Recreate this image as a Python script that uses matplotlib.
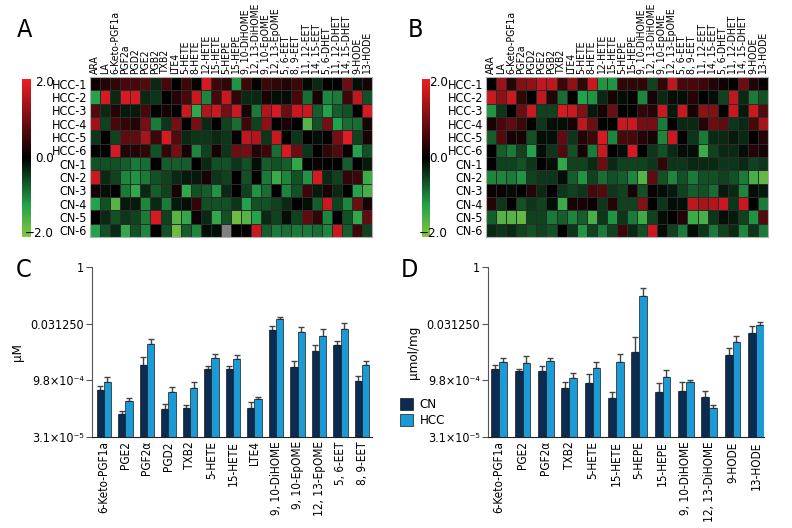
import numpy as np
import matplotlib
matplotlib.use("Agg")
import matplotlib.pyplot as plt
from matplotlib import font_manager
from matplotlib.colors import LinearSegmentedColormap
from matplotlib.patches import Patch
from matplotlib.ticker import NullLocator

# look for a narrow sans font (the reference uses a condensed face)
narrow = None
for f in font_manager.fontManager.ttflist:
    if f.style != "normal" or str(f.weight) not in ("400", "normal", "regular", "book"):
        continue
    nm = f.name
    if "Mono" in nm or "Serif" in nm:
        continue
    if "Narrow" in nm or "Condensed" in nm or f.stretch in ("condensed", "semi-condensed"):
        rank = 0 if "Liberation" in nm else (1 if "DejaVu" in nm else 2)
        if narrow is None or rank < narrow[0]:
            narrow = (rank, nm, f.stretch)

if narrow is not None:
    plt.rcParams["font.family"] = [narrow[1], "DejaVu Sans"]
    if narrow[2] != "normal":
        plt.rcParams["font.stretch"] = narrow[2]
    SC = 1.0
else:
    plt.rcParams["font.family"] = ["DejaVu Sans"]
    SC = 0.78

# ---- heatmap data (z-scores, -2..2) ----
metabolites = ["ARA", "LA", "6-Keto-PGF1a", "PGF2a", "PGD2", "PGE2", "PGB2", "TXB2", "LTE4",
               "5-HETE", "8-HETE", "12-HETE", "15-HETE", "5-HEPE", "15-HEPE", "9, 10-DiHOME",
               "12, 13-DiHOME", "9, 10-EpOME", "12, 13-EpOME", "5, 6-EET", "8, 9-EET",
               "11, 12-EET", "14, 15-EET", "5, 6-DHET", "11, 12-DHET", "14, 15-DHET",
               "9-HODE", "13-HODE"]
samples = ["HCC-1", "HCC-2", "HCC-3", "HCC-4", "HCC-5", "HCC-6",
           "CN-1", "CN-2", "CN-3", "CN-4", "CN-5", "CN-6"]

heat_a = [
    [0.1, 0.3, 0.4, 0.6, 0.6, 0.7, -0.3, 0.6, 0, 0.5, 0, 1.8, 0.5, 0.4, -1.1, 0.5, 0.05, 0.5, 0.4, 0.3, 0.5, -0.05, -0.3, 0, 0, 0.9, -0.1, 0.2],
    [-1.2, 1.8, -0.3, 1.8, 1.8, -0.3, -0.4, 0, 0.3, 0.6, 1.7, -1.0, 0.6, 1.7, 0.4, -0.3, -0.3, 0.2, -0.1, -0.1, 0.6, -0.8, 0.2, -1.0, -0.9, 0.5, 1.6, -0.6],
    [0.7, -0.3, 0.3, -0.2, -0.2, 0.6, 0, 0.2, 0, 1.7, -1.3, 1.5, 1.7, 1.0, 1.7, 0.2, -0.9, 1.5, 1.8, 0.9, 1.7, 1.7, -0.7, -1.2, -0.7, -0.6, 0, 1.8],
    [1.3, -0.5, 0.6, 0.4, 0.3, 1.0, -0.9, -0.4, 1.0, 0, 1.0, -0.3, 0, -0.5, -0.8, 0.5, -0.5, 1.2, 0, 0.2, 0, -1.6, -0.6, 1.0, -1.2, -0.8, -0.8, 0.2],
    [-0.4, 0, -0.5, 0.8, 0.8, 1.4, 0.5, 1.8, 0.7, -0.3, -0.4, -0.4, -0.3, -0.4, 0.05, 1.6, 1.5, -0.4, 1.7, 0, -0.4, 0, -0.1, 0, 1.0, 1.9, -0.5, 0.2],
    [0, 0, 1.8, 0.3, 0.3, 0.4, -0.6, 0.4, 1.0, 0.2, -1.0, -0.5, 0.2, -0.4, 0.9, 1.0, 0.3, 0.5, -0.8, 1.8, 0.9, -0.4, 0, 0.4, 0.7, 0.1, -1.2, -0.6],
    [-0.6, -0.6, -0.6, -0.7, -0.9, -0.8, 0, -0.7, -0.7, -0.7, 0, -0.3, -0.6, -0.6, -0.4, -0.6, -0.1, -0.7, -0.6, -0.7, -1.3, 0, 0.1, 0, 0, -0.7, 0, -0.2],
    [1.7, -0.3, -0.5, -1.0, -1.1, -0.9, -0.6, -0.5, -0.3, -0.2, -0.2, 0.2, -0.4, -0.5, 0, -0.6, 0, -0.9, -1.4, -1.0, -0.6, -1.1, 1.8, -0.3, -0.5, 0.4, 0.5, -1.4],
    [0.15, -0.1, 0, -0.9, -1.3, -0.3, -0.7, -0.5, 0.2, -1.3, -0.6, -0.7, -1.1, -0.3, 0, -0.5, -1.1, -0.8, 0, -1.0, -0.6, 0.5, -0.2, 0.2, -0.3, 0, -1.2, -1.5],
    [-1.2, -0.6, -1.6, -0.2, -0.2, -1.0, -0.3, -0.9, -0.2, -0.1, 0.4, -0.6, -0.6, -0.6, -0.4, -1.2, -0.6, -0.6, -0.5, -0.3, 0, -0.1, -0.7, 1.7, -0.5, -1.0, 0.9, 0.2],
    [0, -0.3, -0.6, -0.4, -0.5, -0.9, 1.8, -0.5, -1.6, -1.3, 0.1, -0.3, -1.3, -0.6, -1.8, -1.6, -1.2, -0.3, -0.5, -0.1, -0.5, 0.8, 0.4, -1.0, 0, -0.6, -1.3, 0.8],
    [-1.2, -0.6, -0.3, -1.3, -0.6, -1.0, 0, -0.6, -1.8, -0.7, -1.0, -0.1, -0.1, np.nan, 0, 0.05, 1.7, -0.7, -0.9, -0.8, -0.9, -0.9, -0.8, -1.0, 1.7, -0.7, 0.5, -0.5],
]

heat_b = [
    [0, 1.3, 0.3, 1.1, 1.2, 1.6, 1.6, 0.5, 1.2, 0.4, 1.7, -1.1, -1.1, 0.4, 0.4, 0.4, -0.5, 0.4, 1.6, 0.6, 0.6, 0.5, 0.3, 0.15, 0, 0.9, 0.3, 0.05],
    [1.7, 1.2, 1.7, 0.4, 0, 1.6, 0.3, -0.8, 0, -1.2, -1.1, -0.3, 0.2, -0.1, 0, -1.0, 0.2, -0.3, -0.1, -0.1, 0.3, 0, -0.1, -0.5, 1.6, -0.3, -0.9, -0.6],
    [-1.1, -0.4, 0, 0.9, 1.7, -0.5, -0.5, 1.8, 1.7, 1.1, -0.2, 0.2, 0.9, 0, 0, 0.4, 0.3, 1.7, -0.2, 1.7, 0.2, 1.2, 1.1, 0, 1.7, -0.2, 1.7, 0.7],
    [0.2, 0.6, 0.8, 0.5, 0, -0.4, -0.1, -0.1, 0.2, 1.6, 0.9, 0, 0, 1.7, 1.7, 1.0, 1.0, -0.9, 0, -0.3, -0.3, 0.3, 0.9, 0.8, -0.4, -0.3, 0.6, 1.4],
    [-0.7, 0.7, 0.2, 0.2, -0.6, -0.1, -0.1, 0.8, -0.4, 0.3, 0.5, 1.8, -1.0, 0.6, 0.6, 0.3, 0.2, -1.0, 1.7, 0, -0.4, -0.9, -0.3, -0.3, -0.2, -0.3, 0, 0.3],
    [0, -0.7, -0.9, -0.5, -1.2, -0.1, -0.4, 0.7, -0.6, 0.2, -0.9, 1.7, 0, -0.1, 1.8, 0, -0.4, -0.6, -0.3, -0.1, -0.1, -1.4, -0.5, -0.3, -0.3, -0.1, 0.3, 0.2],
    [0, -0.5, -0.5, -0.6, -0.4, 0, -0.1, -1.3, -0.5, -0.5, -0.3, 0.9, -0.3, -0.5, -0.5, -0.5, -0.4, 0.4, -0.4, -0.4, -0.3, -0.3, -0.3, -0.4, -0.4, -0.3, -0.5, -0.4],
    [-1.0, -1.0, -0.9, -1.1, -0.5, -0.4, -0.4, -0.1, -0.7, -1.1, -0.5, -0.8, -0.6, -0.7, -1.0, -1.6, 0.8, -0.6, -1.0, -0.6, -0.9, -0.6, -0.6, -0.5, -0.6, -0.9, -1.5, -1.7],
    [0.1, 0.1, -0.1, 0, 0.3, -0.3, 0, -0.4, -0.5, -0.4, 0.6, 0.7, -0.4, -0.5, 0.2, -0.6, 0.1, -0.1, -0.2, -0.5, -0.7, -0.6, -0.8, -0.2, -0.3, -1.0, -0.1, -0.2],
    [0.3, -0.4, 0, -0.6, -0.4, -0.5, -0.1, -1.4, 0.2, 0.2, 0.1, -0.4, 0.3, -0.5, -0.5, 1.1, 0, -0.4, -0.1, -0.1, 1.6, 1.4, 1.5, 1.7, -0.4, 1.7, 0, -0.9],
    [-0.7, -1.6, -1.6, -1.7, -0.5, -0.5, -0.9, -0.7, -1.0, -0.7, -1.5, -0.4, -1.1, -0.4, -0.9, -1.4, -0.5, -0.1, 0, 0.3, -1.4, -1.5, -0.4, -0.1, -0.2, -0.5, -1.1, 0.7],
    [-0.3, -0.4, -0.3, -0.5, -0.6, -0.5, -0.6, 0, -0.4, -1.1, -0.5, -0.9, -0.5, 0.5, -0.3, -0.6, 1.7, -0.1, -0.5, -0.9, -0.1, -0.4, -0.9, -0.5, -0.3, -1.0, -0.4, -0.9],
]

# ---- bar data, read on the log2 axis (value = 2 ** x) ----
names_c = ["6-Keto-PGF1a", "PGE2", "PGF2α", "PGD2", "TXB2", "5-HETE", "15-HETE", "LTE4",
           "9, 10-DiHOME", "9, 10-EpOME", "12, 13-EpOME", "5, 6-EET", "8, 9-EET"]
cn_c = [-10.88, -12.94, -8.62, -12.5, -12.44, -9.03, -9.03, -12.41, -5.56, -8.85, -7.38, -6.91, -10.09]
cn_c_top = [-10.53, -12.71, -7.94, -12.09, -12.18, -8.71, -8.76, -11.91, -5.24, -8.29, -6.85, -6.56, -9.62]
hcc_c = [-10.18, -11.79, -6.76, -11.0, -10.68, -8.0, -8.12, -11.65, -4.62, -5.74, -6.06, -5.5, -8.68]
hcc_c_top = [-9.74, -11.56, -6.38, -10.59, -10.18, -7.65, -7.76, -11.44, -4.38, -5.29, -5.47, -4.94, -8.26]

names_d = ["6-Keto-PGF1a", "PGE2", "PGF2α", "TXB2", "5-HETE", "15-HETE", "5-HEPE", "15-HEPE",
           "9, 10-DiHOME", "12, 13-DiHOME", "9-HODE", "13-HODE"]
cn_d = [-8.97, -9.15, -9.15, -10.71, -10.21, -11.56, -7.47, -11.06, -10.91, -11.44, -7.76, -5.79]
cn_d_top = [-8.65, -9.0, -8.76, -10.18, -9.44, -11.03, -6.15, -10.21, -10.18, -10.94, -7.15, -5.21]
hcc_d = [-8.35, -8.44, -8.26, -9.82, -8.91, -8.38, -2.56, -9.68, -10.12, -12.47, -6.59, -5.12]
hcc_d_top = [-8.06, -7.88, -8.06, -9.35, -8.38, -7.68, -1.82, -9.12, -9.97, -12.21, -6.09, -4.85]

ytick_vals = [2.0 ** 0, 2.0 ** -5, 2.0 ** -10, 2.0 ** -15]
ytick_labels = ["1", "0.031250", "9.8×10⁻⁴", "3.1×10⁻⁵"]

CN_COL = "#0c2b50"
HCC_COL = "#1c9ad6"

W, H = 792, 528


def px(x0, y0, x1, y1):
    return [x0 / W, 1 - y1 / H, (x1 - x0) / W, (y1 - y0) / H]


cmap = LinearSegmentedColormap.from_list(
    "gkr", [(0.0, "#86c540"), (0.2, "#22a24a"), (0.5, "#000000"), (1.0, "#ee1c25")])
cmap.set_bad("#808080")

fig = plt.figure(figsize=(W / 100, H / 100), dpi=100)


def heatmap(rect, cbar_rect, lab_x, data, letter, letter_x):
    ax = fig.add_axes(px(*rect))
    arr = np.ma.masked_invalid(np.array(data, dtype=float))
    mesh = ax.pcolormesh(arr, cmap=cmap, vmin=-2, vmax=2,
                         edgecolors="#2b2b2b", linewidth=0.7)
    ax.set_xlim(0, len(metabolites))
    ax.set_ylim(len(samples), 0)
    ax.xaxis.tick_top()
    ax.set_xticks(np.arange(len(metabolites)) + 0.5)
    ax.set_xticklabels(metabolites, rotation=90, fontsize=7.5 * SC)
    ax.set_yticks(np.arange(len(samples)) + 0.5)
    ax.set_yticklabels(samples, fontsize=9 * SC)
    ax.tick_params(length=0, pad=2)
    for s in ax.spines.values():
        s.set_color("#b0b0b0")
        s.set_linewidth(0.8)

    cax = fig.add_axes(px(*cbar_rect))
    cb = fig.colorbar(mesh, cax=cax, ticks=[])
    cb.outline.set_visible(False)
    top = cbar_rect[1]
    bot = cbar_rect[3]
    for val, txt in [(2, "2.0"), (0, "0.0"), (-2, "−2.0")]:
        yy = bot - (val + 2) / 4 * (bot - top)
        yy = min(max(yy, top + 4), bot - 3)
        fig.text(lab_x / W, 1 - yy / H, txt, ha="right", va="center", fontsize=9.5 * SC)
    fig.text(letter_x / W, 1 - 30 / H, letter, fontsize=18, ha="left", va="center")


heatmap((90, 77, 372, 237), (22, 79, 31, 237), 54, heat_a, "A", 17)
heatmap((486, 77, 768, 237), (422, 79, 430, 237), 448, heat_b, "B", 408)


def bars(rect, names_, cn, cn_top, hcc, hcc_top, width, xlim, ylabel, letter, letter_x):
    ax = fig.add_axes(px(*rect))
    ax.set_yscale("log", base=2)
    x = np.arange(len(names_))
    base = 2.0 ** -15
    cn_v = 2.0 ** np.array(cn)
    hcc_v = 2.0 ** np.array(hcc)
    cn_e = 2.0 ** np.array(cn_top) - cn_v
    hcc_e = 2.0 ** np.array(hcc_top) - hcc_v
    ax.bar(x - width / 2, cn_v - base, width, bottom=base, color=CN_COL,
           edgecolor="#1a1a1a", linewidth=0.5, label="CN", zorder=2)
    ax.bar(x + width / 2, hcc_v - base, width, bottom=base, color=HCC_COL,
           edgecolor="#1a1a1a", linewidth=0.5, label="HCC", zorder=2)
    ax.errorbar(x - width / 2, cn_v, yerr=[np.zeros_like(cn_e), cn_e], fmt="none",
                ecolor="#444444", elinewidth=1, capsize=2, capthick=1, zorder=1)
    ax.errorbar(x + width / 2, hcc_v, yerr=[np.zeros_like(hcc_e), hcc_e], fmt="none",
                ecolor="#444444", elinewidth=1, capsize=2, capthick=1, zorder=1)
    ax.set_ylim(2.0 ** -15, 1)
    ax.set_xlim(*xlim)
    ax.set_yticks(ytick_vals)
    ax.set_yticklabels(ytick_labels, fontsize=9 * SC)
    ax.yaxis.set_minor_locator(NullLocator())
    ax.set_xticks(x)
    ax.set_xticklabels(names_, rotation=90, fontsize=8.5 * SC)
    ax.tick_params(axis="x", length=0, pad=3)
    ax.tick_params(axis="y", length=4, width=0.8, color="#555555", pad=2)
    for s in ["top", "right"]:
        ax.spines[s].set_visible(False)
    ax.spines["left"].set_color("#555555")
    ax.spines["bottom"].set_color("#222222")
    ax.set_ylabel(ylabel, fontsize=9.5 * SC, labelpad=4)
    fig.text(letter_x / W, 1 - 270 / H, letter, fontsize=18, ha="left", va="center")
    return ax


bars((92, 267, 372, 437), names_c, cn_c, cn_c_top, hcc_c, hcc_c_top, 0.34,
     (-0.55, 12.46), "μM", "C", 16)
axd = bars((488, 267, 764, 437), names_d, cn_d, cn_d_top, hcc_d, hcc_d_top, 0.33,
           (-0.48, 11.35), "μmol/mg", "D", 401)

handles = [Patch(facecolor=CN_COL, edgecolor="#1a1a1a", linewidth=0.5),
           Patch(facecolor=HCC_COL, edgecolor="#1a1a1a", linewidth=0.5)]
fig.legend(handles, ["CN", "HCC"], loc="upper left", bbox_to_anchor=(400 / W, 1 - 398 / H),
           frameon=False, fontsize=9.5 * SC, handlelength=1.0, handleheight=1.0,
           handletextpad=0.5, labelspacing=0.2, borderaxespad=0, borderpad=0)

fig.savefig("out.png", dpi=100)
